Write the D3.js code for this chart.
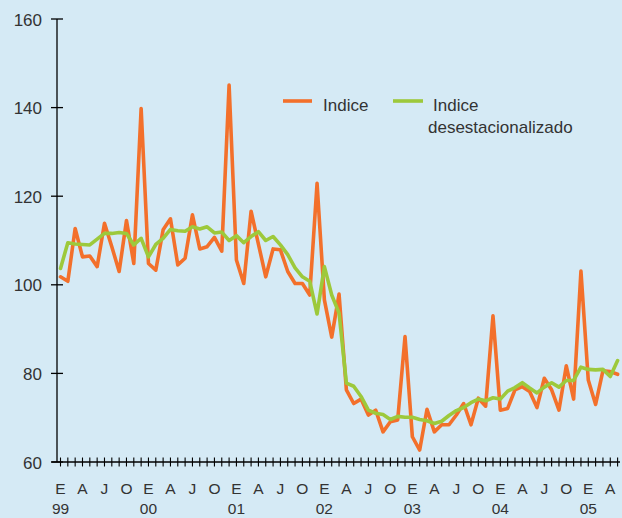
<!DOCTYPE html>
<html>
<head>
<meta charset="utf-8">
<script src="https://cdn.jsdelivr.net/npm/d3@7"></script>
<style>
  html, body { margin: 0; padding: 0; background: #d5eaf5; }
  svg { display: block; }
</style>
</head>
<body>
<svg id="chart" width="622" height="518"></svg>
<script>
// Monthly series, Jan 1999 (index 0) to May 2005 (index 76)
const indice = [
  101.8, 100.8, 112.7, 106.3, 106.5, 104.1, 113.9, 108.6, 103.0, 114.5, 104.8, 139.8,
  104.8, 103.3, 112.4, 114.9, 104.5, 106.0, 115.8, 108.1, 108.6, 110.7, 107.6, 145.1,
  105.6, 100.3, 116.6, 109.2, 101.8, 108.1, 107.9, 103.0, 100.3, 100.3, 97.7, 122.9,
  96.6, 88.2, 97.9, 76.3, 73.2, 74.2, 70.6, 71.7, 66.8, 69.1, 69.5, 88.3,
  65.7, 62.7, 71.9, 66.8, 68.4, 68.4, 70.6, 73.2, 68.4, 74.4, 72.6, 93.0,
  71.7, 72.1, 76.3, 77.0, 75.9, 72.3, 78.9, 76.3, 71.7, 81.7, 74.2, 103.1,
  78.5, 73.0, 80.6, 80.4, 79.8
];
const desestacionalizado = [
  103.7, 109.5, 109.2, 109.1, 109.0, 110.3, 111.6, 111.6, 111.8, 111.6, 109.0, 110.5,
  106.3, 109.1, 110.5, 112.5, 112.2, 112.1, 113.1, 112.6, 113.1, 111.7, 111.9, 110.0,
  111.1, 109.5, 110.9, 112.0, 110.0, 110.9, 109.0, 106.8, 103.8, 101.8, 100.8, 93.4,
  104.1, 97.7, 93.6, 77.8, 77.1, 74.8, 71.7, 71.0, 70.7, 69.6, 70.3, 70.1,
  70.1, 69.6, 69.3, 68.7, 69.2, 70.5, 71.6, 72.3, 73.4, 74.2, 73.8, 74.5,
  74.2, 76.0, 76.8, 77.9, 76.7, 75.6, 76.9, 77.9, 76.9, 78.4, 78.4, 81.4,
  80.9, 80.8, 80.9, 79.3, 82.9
];
const monthLabels = ["E", "A", "J", "O"];
const yearLabels = ["99", "00", "01", "02", "03", "04", "05"];
const yTicks = [60, 80, 100, 120, 140, 160];
const legendLabels = ["Indice", "Indice"];
const legendSecondLine = "desestacionalizado";

const svg = d3.select("#chart");
const font = "'Liberation Sans', Arial, sans-serif";
const textColor = "#333333";
const orange = "#f3702b";
const green = "#9dc93b";

const nMonths = indice.length;
const x = d3.scaleLinear().domain([0, 76]).range([60.5, 617.6]);
const y = d3.scaleLinear().domain([60, 160]).range([462, 19]);

// Y axis
const yAxis = d3.axisLeft(y).tickValues(yTicks).tickSize(0).tickPadding(15);
const gy = svg.append("g").attr("transform", "translate(57,0)").call(yAxis);
gy.select(".domain").remove();
gy.selectAll("text").attr("font-family", font).attr("font-size", 17).attr("fill", textColor).attr("dy", "0.36em");
svg.append("line").attr("x1", 57).attr("x2", 57).attr("y1", y(160)).attr("y2", y(60))
  .attr("stroke", "#000").attr("stroke-width", 1.3);
svg.selectAll(".ytick").data(yTicks).enter().append("line")
  .attr("x1", 51).attr("x2", 63).attr("y1", d => y(d)).attr("y2", d => y(d))
  .attr("stroke", "#000").attr("stroke-width", 1.3);

// X axis
svg.append("line").attr("x1", 51.5).attr("x2", 620).attr("y1", y(60)).attr("y2", y(60))
  .attr("stroke", "#000").attr("stroke-width", 1.3);
const monthIdx = d3.range(nMonths);
svg.selectAll(".xtick").data(monthIdx).enter().append("line")
  .attr("x1", d => x(d)).attr("x2", d => x(d))
  .attr("y1", y(60) - 4.5).attr("y2", y(60) + 4.5)
  .attr("stroke", "#000").attr("stroke-width", 1.1);

const quarterIdx = monthIdx.filter(d => d % 3 === 0);
svg.selectAll(".mlabel").data(quarterIdx).enter().append("text")
  .attr("x", d => x(d)).attr("y", 494)
  .attr("text-anchor", "middle").attr("font-family", font).attr("font-size", 15.5)
  .attr("fill", textColor)
  .text(d => monthLabels[(d % 12) / 3]);
svg.selectAll(".ylabel").data(yearLabels).enter().append("text")
  .attr("x", (d, i) => x(i * 12)).attr("y", 514)
  .attr("text-anchor", "middle").attr("font-family", font).attr("font-size", 15.5)
  .attr("fill", textColor)
  .text(d => d);

// Lines
const line = d3.line().x((d, i) => x(i)).y(d => y(d)).curve(d3.curveLinear);
svg.append("path").datum(indice).attr("d", line)
  .attr("fill", "none").attr("stroke", orange).attr("stroke-width", 3.6)
  .attr("stroke-linejoin", "round").attr("stroke-linecap", "round");
svg.append("path").datum(desestacionalizado).attr("d", line)
  .attr("fill", "none").attr("stroke", green).attr("stroke-width", 3.6)
  .attr("stroke-linejoin", "round").attr("stroke-linecap", "round");

// Legend
const lg = svg.append("g");
lg.append("line").attr("x1", 283).attr("x2", 312).attr("y1", 101).attr("y2", 101)
  .attr("stroke", orange).attr("stroke-width", 3.6);
lg.append("text").attr("x", 323).attr("y", 111).attr("font-family", font).attr("font-size", 17)
  .attr("fill", textColor).text(legendLabels[0]);
lg.append("line").attr("x1", 393).attr("x2", 423).attr("y1", 101).attr("y2", 101)
  .attr("stroke", green).attr("stroke-width", 3.6);
lg.append("text").attr("x", 433).attr("y", 111).attr("font-family", font).attr("font-size", 17)
  .attr("fill", textColor).text(legendLabels[1]);
lg.append("text").attr("x", 428).attr("y", 133).attr("font-family", font).attr("font-size", 17)
  .attr("fill", textColor).text(legendSecondLine);
</script>
</body>
</html>
